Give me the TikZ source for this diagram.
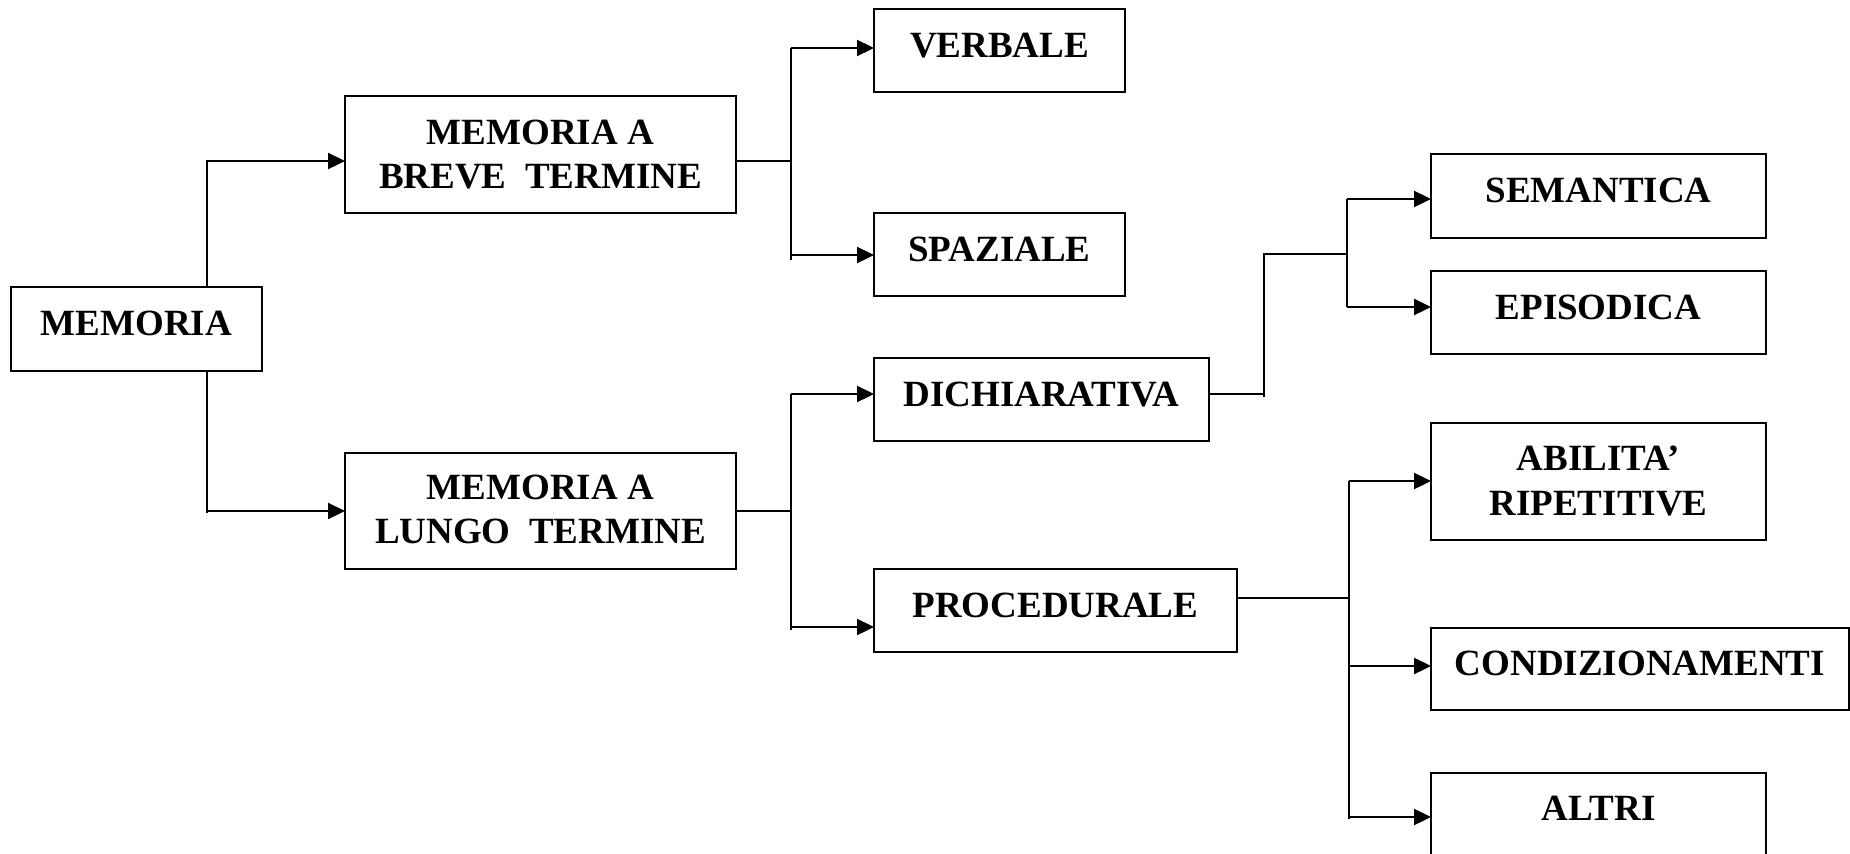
\documentclass[tikz,border=0pt]{standalone}
\usepackage{fontspec}
\setmainfont{Liberation Serif}
\usetikzlibrary{arrows.meta}
\tikzset{
  box/.style={draw, line width=2.3pt, inner sep=0pt, outer sep=0pt, anchor=north west},
  lbl/.style={font=\fontsize{37}{44}\selectfont\bfseries, anchor=base, inner sep=0pt},
  link/.style={line width=2.3pt},
  arr/.style={line width=2.3pt, -{Triangle[length=17pt,width=16pt]}},
}
\begin{document}
\begin{tikzpicture}[x=1pt,y=-1pt]
\useasboundingbox (0,0) rectangle (1850,854);
\clip (0,0) rectangle (1850,854);

% boxes
\node[box, minimum width=251pt, minimum height=84pt]  (mem)   at (11,287)   {};
\node[box, minimum width=391pt, minimum height=117pt] (mbt)   at (345,96)   {};
\node[box, minimum width=391pt, minimum height=116pt] (mlt)   at (345,453)  {};
\node[box, minimum width=251pt, minimum height=83pt]  (verb)  at (874,9)    {};
\node[box, minimum width=251pt, minimum height=83pt]  (spaz)  at (874,213)  {};
\node[box, minimum width=335pt, minimum height=83pt]  (dich)  at (874,358)  {};
\node[box, minimum width=363pt, minimum height=83pt]  (proc)  at (874,569)  {};
\node[box, minimum width=335pt, minimum height=84pt]  (sem)   at (1431,154) {};
\node[box, minimum width=335pt, minimum height=83pt]  (epi)   at (1431,271) {};
\node[box, minimum width=335pt, minimum height=117pt] (abil)  at (1431,423) {};
\node[box, minimum width=418pt, minimum height=82pt]  (cond)  at (1431,628) {};
\node[box, minimum width=335pt, minimum height=120pt] (altri) at (1431,773) {};

% texts
\node[lbl] (memt)   at (136.5,335) {MEMORIA};
\node[lbl] (mbta)   at (540.5,144) {MEMORIA A};
\node[lbl] (mbtb)   at (540.5,188) {BREVE\ \ TERMINE};
\node[lbl] (mlta)   at (540.5,499) {MEMORIA A};
\node[lbl] (mltb)   at (540.5,543) {LUNGO\ \ TERMINE};
\node[lbl] (verbt)  at (999.5,57)  {VERBALE};
\node[lbl] (spazt)  at (999.5,261) {SPAZIALE};
\node[lbl] (dicht)  at (1041.5,406) {DICHIARATIVA};
\node[lbl] (proct)  at (1055.5,617) {PROCEDURALE};
\node[lbl] (semt)   at (1598.5,202) {SEMANTICA};
\node[lbl] (epit)   at (1598.5,319) {EPISODICA};
\node[lbl] (abilta) at (1598.5,470) {ABILITA’};
\node[lbl] (abiltb) at (1598.5,515) {RIPETITIVE};
\node[lbl] (condt)  at (1640,675)  {CONDIZIONAMENTI};
\node[lbl] (altrit) at (1598.5,820) {ALTRI};

% junction coordinates
\coordinate (ja) at (207,0);
\coordinate (jb) at (791,0);
\coordinate (jc) at (1264,0);
\coordinate (jd) at (1347,0);
\coordinate (je) at (1349,0);

% MEMORIA -> MBT / MLT
\draw[arr] (mem.north -| ja) |- (mbt.west |- 0,161);
\draw[arr] (mem.south -| ja) |- (mlt.west |- 0,511);
\draw[link] (mem.south -| ja) -- (ja |- 0,513);

% MBT -> VERBALE / SPAZIALE
\draw[link] (mbt.east |- 0,161) -- (jb |- 0,161);
\draw[link] (jb |- 0,48) -- (jb |- 0,260);
\draw[arr] (jb |- 0,48) -- (verb.west |- 0,48);
\draw[arr] (jb |- 0,255) -- (spaz.west |- 0,255);

% MLT -> DICHIARATIVA / PROCEDURALE
\draw[link] (mlt.east |- 0,511) -- (jb |- 0,511);
\draw[link] (jb |- 0,394) -- (jb |- 0,630);
\draw[arr] (jb |- 0,394) -- (dich.west |- 0,394);
\draw[arr] (jb |- 0,627) -- (proc.west |- 0,627);

% DICHIARATIVA -> SEMANTICA / EPISODICA
\draw[link] (dich.east |- 0,394) -- (jc |- 0,394);
\draw[link] (jc |- 0,397) -- (jc |- 0,254) -- (jd |- 0,254);
\draw[link] (jd |- 0,199) -- (jd |- 0,307);
\draw[arr] (jd |- 0,199) -- (sem.west |- 0,199);
\draw[arr] (jd |- 0,307) -- (epi.west |- 0,307);

% PROCEDURALE -> ABILITA' / CONDIZIONAMENTI / ALTRI
\draw[link] (proc.east |- 0,598) -- (je |- 0,598);
\draw[link] (je |- 0,481) -- (je |- 0,819);
\draw[arr] (je |- 0,481) -- (abil.west |- 0,481);
\draw[arr] (je |- 0,666) -- (cond.west |- 0,666);
\draw[arr] (je |- 0,817) -- (altri.west |- 0,817);
\end{tikzpicture}
\end{document}
